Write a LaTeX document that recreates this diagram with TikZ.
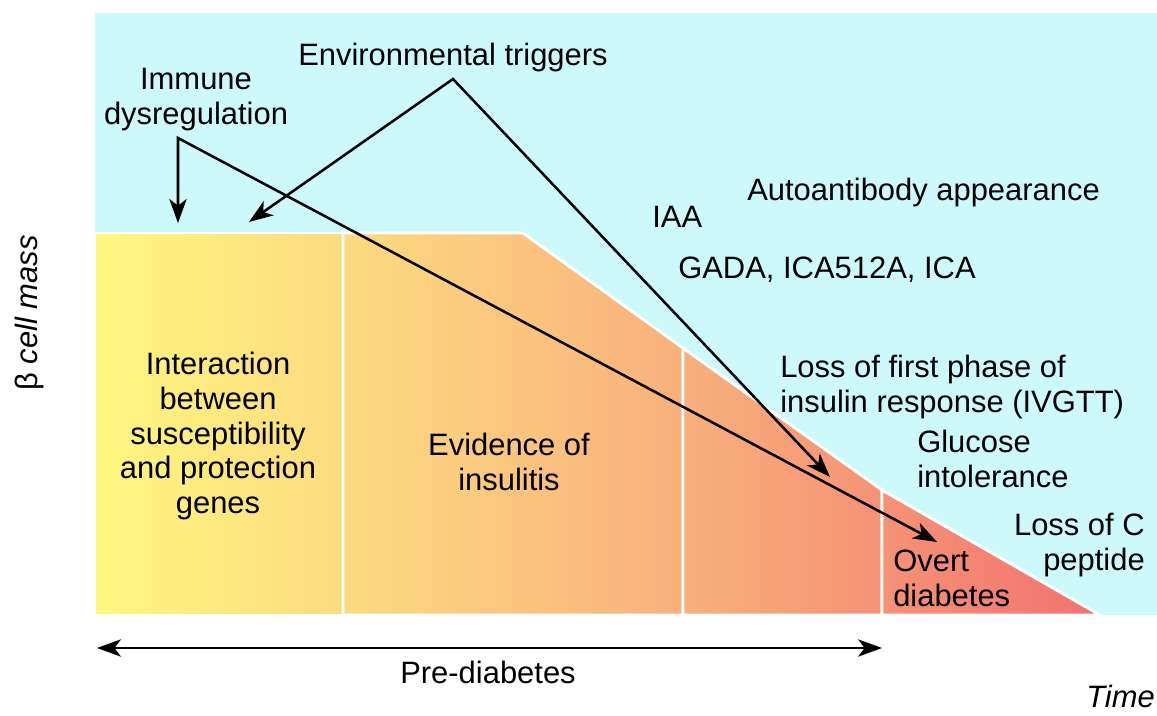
\documentclass[tikz,border=0pt]{standalone}
\usepackage{fontspec}
\setmainfont{Liberation Sans}
\usetikzlibrary{arrows.meta}
\definecolor{skyfill}{RGB}{206,249,251}
\definecolor{stageA}{RGB}{255,247,128}
\definecolor{stageB}{RGB}{252,219,128}
\definecolor{stageC}{RGB}{248,176,124}
\definecolor{stageD}{RGB}{245,146,118}
\definecolor{stageE}{RGB}{241,114,112}

\begin{document}
\begin{tikzpicture}[x=0.75pt,y=-0.75pt,
  lbl/.style={font=\fontsize{23.2}{26}\selectfont,inner sep=0pt},
  arr/.style={draw=black,line width=1.9pt,line join=miter},
  stage/.style={draw=white,line width=2.2pt,line join=miter},
  >={Stealth[length=18pt,width=13pt,inset=5pt]}]
\useasboundingbox (0,0) rectangle (1157,715);
\fill [skyfill] (95,13) rectangle (1157,615);
\path [stage,left color=stageA,right color=stageB] (95,615) -- (95,233) -- (343,233) -- (343,615) -- cycle;
\path [stage,left color=stageB,right color=stageC] (343,615) -- (343,233) -- (523,233) -- (683,348) -- (683,615) -- cycle;
\path [stage,left color=stageC,right color=stageD] (683,615) -- (683,348) -- (882,490) -- (882,615) -- cycle;
\path [stage,left color=stageD,right color=stageE] (882,615) -- (882,490) -- (1100,615) -- cycle;

\node [lbl,anchor=base] (envtrig) at (453,65) {Environmental triggers};
\node [lbl,anchor=north,align=center] (immune) at (196,68) {Immune\\dysregulation};
\node [lbl,anchor=base west] (autoab) at (747,200) {Autoantibody appearance};
\node [lbl,anchor=base west] (iaa) at (652,227) {IAA};
\node [lbl,anchor=base west] (gada) at (678,278) {GADA, ICA512A, ICA};
\node [lbl,anchor=north west,align=left] (firstphase) at (780,355) {Loss of first phase of\\insulin response (IVGTT)};
\node [lbl,anchor=north west,align=left] (glucose) at (917,430) {Glucose\\intolerance};
\node [lbl,anchor=north east,align=right] (cpeptide) at (1145,513) {Loss of C\\peptide};
\node [lbl,anchor=north west,align=left] (overt) at (893,550) {Overt\\diabetes};
\node [lbl,anchor=north,align=center] (genes) at (218,352) {Interaction\\between\\susceptibility\\and protection\\genes};
\node [lbl,anchor=north,align=center] (insulitis) at (509,433) {Evidence of\\insulitis};
\node [lbl,anchor=base] (prediab) at (488,683) {Pre-diabetes};
\node [lbl,anchor=base east,font=\fontsize{23.2}{26}\selectfont\itshape] (time) at (1155,707) {Time};
\node [lbl,anchor=base,rotate=90] (mass) at (37,313) {β \textit{cell mass}};

\coordinate (immroot) at (178,138);
\coordinate (immhit) at (178,223);
\coordinate (overthit) at (937,542);
\coordinate (envroot) at (453,79);
\coordinate (envhitL) at (249,222);
\coordinate (envhitR) at (830,477);
\coordinate (prestart) at (97,648);
\coordinate (preend) at (882,648);
\draw [arr,<->] (immhit) -- (immroot) -- (overthit);
\draw [arr,<->] (envhitL) -- (envroot) -- (envhitR);
\draw [arr,<->] (prestart) -- (preend);
\end{tikzpicture}
\end{document}
